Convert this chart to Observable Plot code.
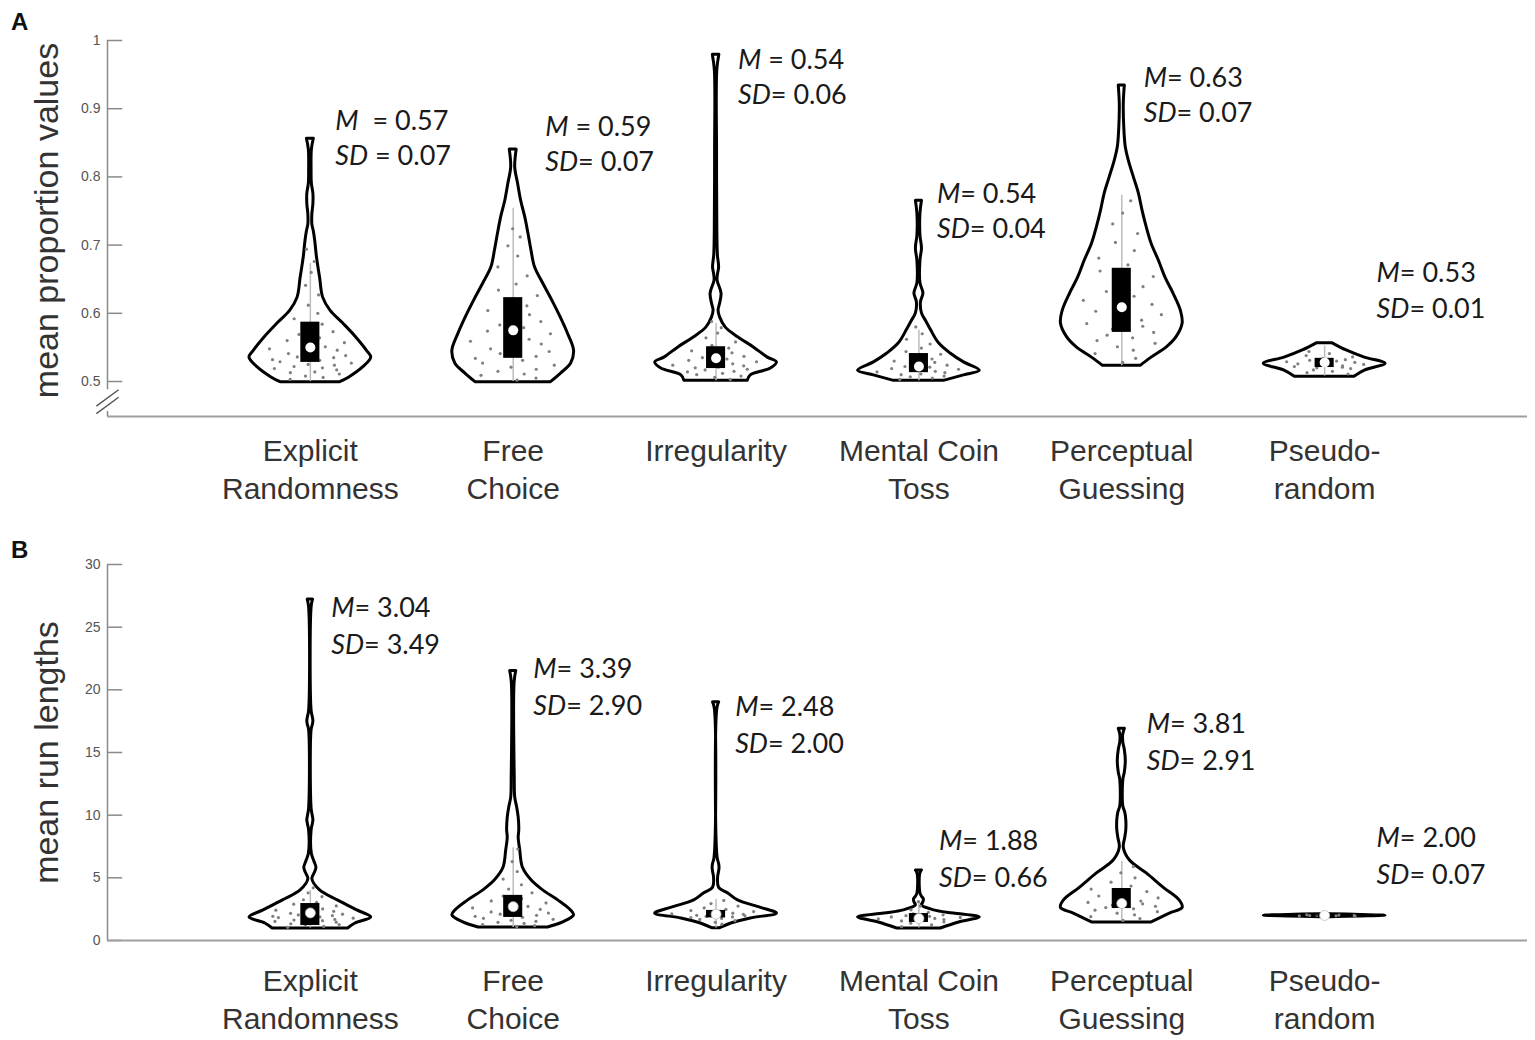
<!DOCTYPE html>
<html><head><meta charset="utf-8">
<script src="https://cdn.jsdelivr.net/npm/d3@7"></script>
<script src="https://cdn.jsdelivr.net/npm/@observablehq/plot@0.6"></script>
<style>
body{margin:0;background:#fff;}
#wrap{position:relative;width:1535px;height:1040px;overflow:hidden;}
.panel{position:absolute;left:0;}
.tag{position:absolute;left:11px;z-index:2;font:bold 24px "Liberation Sans",Arial,sans-serif;color:#111;}
</style></head><body>
<div id="wrap">
  <div id="pa" class="panel" style="top:0"></div>
  <div id="pb" class="panel" style="top:530px"></div>
  <div class="tag" style="top:8px">A</div>
  <div class="tag" style="top:536px">B</div>
</div>
<script>
// ---------- categories ----------
const categories = ["Explicit\nRandomness", "Free\nChoice", "Irregularity", "Mental Coin\nToss", "Perceptual\nGuessing", "Pseudo-\nrandom"];

// ---------- Panel A: mean proportion values ----------
const ticksA = [0.5, 0.6, 0.7, 0.8, 0.9, 1];
const meanA = [0.57, 0.59, 0.54, 0.54, 0.63, 0.53];
const sdA = [0.07, 0.07, 0.06, 0.04, 0.07, 0.01];
// violin outlines: [value, relative half-width]
const violinA_explicit = [[0.499,0.49],[0.506,0.64],[0.521,0.87],[0.535,1.0],[0.545,0.93],[0.565,0.75],[0.585,0.54],[0.604,0.33],[0.623,0.21],[0.652,0.16],[0.681,0.11],[0.706,0.08],[0.72,0.057],[0.73,0.033],[0.745,0.033],[0.76,0.05],[0.775,0.05],[0.79,0.025],[0.81,0.02],[0.84,0.025],[0.856,0.057]];
const violinA_free = [[0.499,0.62],[0.512,0.79],[0.526,0.95],[0.545,1.0],[0.57,0.9],[0.594,0.78],[0.619,0.64],[0.644,0.49],[0.667,0.36],[0.692,0.3],[0.717,0.25],[0.74,0.2],[0.765,0.13],[0.79,0.08],[0.814,0.033],[0.84,0.057]];
const violinA_irreg = [[0.501,0.52],[0.509,0.57],[0.519,0.9],[0.528,1.0],[0.535,0.85],[0.55,0.62],[0.565,0.36],[0.579,0.16],[0.594,0.066],[0.604,0.041],[0.614,0.066],[0.629,0.09],[0.648,0.025],[0.658,0.033],[0.667,0.05],[0.685,0.03],[0.721,0.021],[0.839,0.016],[0.956,0.02],[0.979,0.054]];
const violinA_coin = [[0.501,0.41],[0.509,0.74],[0.516,1.0],[0.528,0.74],[0.541,0.52],[0.556,0.33],[0.575,0.2],[0.589,0.115],[0.6,0.05],[0.616,0.033],[0.629,0.074],[0.644,0.025],[0.677,0.025],[0.695,0.05],[0.714,0.025],[0.746,0.025],[0.765,0.05]];
const violinA_percep = [[0.523,0.31],[0.535,0.49],[0.55,0.74],[0.565,0.9],[0.585,1.0],[0.604,0.97],[0.629,0.85],[0.652,0.72],[0.677,0.61],[0.702,0.49],[0.726,0.41],[0.751,0.34],[0.776,0.28],[0.799,0.2],[0.824,0.115],[0.843,0.066],[0.872,0.041],[0.908,0.033],[0.934,0.05]];
const violinA_pseudo = [[0.507,0.49],[0.516,0.66],[0.526,1.0],[0.535,0.66],[0.5455,0.36],[0.556,0.13]];
// individual participant values (estimated)
const pointsA_explicit = [0.503,0.506,0.508,0.511,0.513,0.514,0.517,0.519,0.52,0.522,0.524,0.525,0.527,0.529,0.531,0.532,0.535,0.536,0.538,0.541,0.543,0.546,0.548,0.551,0.554,0.557,0.56,0.564,0.569,0.573,0.578,0.584,0.592,0.6,0.612,0.627,0.641,0.66,0.676,0.694];
const pointsA_free = [0.502,0.505,0.509,0.511,0.515,0.518,0.521,0.524,0.527,0.531,0.534,0.537,0.541,0.544,0.548,0.551,0.555,0.559,0.562,0.566,0.57,0.574,0.579,0.583,0.588,0.593,0.598,0.604,0.611,0.617,0.626,0.634,0.643,0.655,0.668,0.684,0.699,0.712,0.724];
const pointsA_irreg = [0.503,0.506,0.508,0.51,0.512,0.514,0.515,0.517,0.518,0.52,0.521,0.523,0.524,0.526,0.527,0.529,0.531,0.533,0.535,0.537,0.539,0.542,0.545,0.549,0.553,0.558,0.564,0.571,0.579,0.588];
const pointsA_coin = [0.503,0.505,0.507,0.508,0.51,0.511,0.513,0.514,0.515,0.517,0.518,0.519,0.521,0.522,0.524,0.526,0.528,0.53,0.533,0.536,0.54,0.544,0.549,0.555,0.562,0.57,0.58];
const pointsA_percep = [0.528,0.534,0.541,0.546,0.551,0.556,0.56,0.564,0.568,0.572,0.577,0.581,0.585,0.59,0.594,0.598,0.603,0.608,0.613,0.619,0.625,0.632,0.639,0.646,0.654,0.662,0.671,0.681,0.692,0.704,0.717,0.731,0.747,0.765];
const pointsA_pseudo = [0.511,0.513,0.515,0.517,0.519,0.52,0.521,0.522,0.523,0.524,0.525,0.526,0.527,0.528,0.529,0.53,0.531,0.532,0.534,0.536,0.538,0.541,0.544];
const q1A = [0.528, 0.534, 0.519, 0.513, 0.572, 0.5205];
const medA = [0.550, 0.575, 0.534, 0.522, 0.609, 0.528];
const q3A = [0.587, 0.623, 0.551, 0.541, 0.666, 0.534];
const whiskLoA = [0.50, 0.50, 0.501, 0.501, 0.523, 0.508];
const whiskHiA = [0.673, 0.754, 0.585, 0.575, 0.773, 0.552];
const annoDxA = [0.123, 0.158, 0.108, 0.089, 0.108, 0.256];
const annoYA = [0.860, 0.851, 0.949, 0.753, 0.922, 0.636];
const mSepA = ["\u00a0\u00a0= ", " = ", " = ", "= ", "= ", "= "];
const sdSepA = [" = ", "= ", "= ", "= ", "= ", "= "];

// ---------- Panel B: mean run lengths ----------
const ticksB = [0, 5, 10, 15, 20, 25, 30];
const meanB = [3.04, 3.39, 2.48, 1.88, 3.81, 2.00];
const sdB = [3.49, 2.90, 2.00, 0.66, 2.91, 0.07];
const violinB_explicit = [[0.96,0.62],[1.36,0.74],[1.84,1.0],[2.4,0.77],[3.2,0.45],[4.0,0.16],[4.9,0.033],[5.4,0.074],[5.8,0.1],[6.3,0.066],[6.9,0.025],[8.8,0.021],[9.3,0.041],[9.6,0.05],[9.9,0.041],[10.5,0.021],[16.8,0.021],[17.2,0.041],[17.5,0.05],[17.8,0.041],[18.3,0.021],[26.6,0.021],[27.2,0.044]];
const violinB_free = [[1.04,0.57],[1.44,0.82],[2.0,1.0],[2.4,0.95],[3.2,0.74],[4.0,0.49],[4.8,0.3],[5.8,0.16],[7.2,0.115],[8.2,0.09],[8.8,0.1],[9.8,0.09],[10.6,0.066],[11.4,0.033],[13.0,0.025],[20.6,0.023],[21.5,0.05]];
const violinB_irreg = [[0.98,0.066],[1.36,0.25],[1.76,0.57],[2.15,1.0],[2.6,0.74],[3.2,0.36],[3.75,0.2],[4.2,0.05],[5.0,0.033],[5.5,0.05],[5.8,0.057],[6.1,0.05],[6.6,0.025],[18.5,0.021],[19.0,0.05]];
const violinB_coin = [[0.96,0.36],[1.44,0.66],[1.84,1.0],[2.15,0.57],[2.4,0.25],[2.8,0.05],[3.05,0.074],[3.27,0.082],[3.5,0.05],[3.75,0.025],[5.3,0.021],[5.59,0.05]];
const violinB_percep = [[1.44,0.49],[2.15,0.79],[2.6,1.0],[3.2,0.95],[4.2,0.69],[5.35,0.41],[6.4,0.13],[7.4,0.033],[8.2,0.057],[8.8,0.074],[9.6,0.074],[10.2,0.057],[10.7,0.025],[12.8,0.025],[13.4,0.05],[14.3,0.066],[15.2,0.05],[15.8,0.025],[16.4,0.023],[16.9,0.05]];
const violinB_pseudo = [[1.86,0.06],[1.92,0.6],[1.98,1.0],[2.04,0.6],[2.1,0.06]];
const pointsB_explicit = [1.05,1.12,1.2,1.27,1.33,1.4,1.46,1.52,1.58,1.63,1.68,1.73,1.78,1.83,1.88,1.93,1.98,2.04,2.1,2.17,2.25,2.33,2.42,2.52,2.63,2.76,2.9,3.05,3.25,3.5,3.8,4.2];
const pointsB_free = [1.1,1.18,1.27,1.36,1.45,1.53,1.61,1.69,1.77,1.85,1.93,2.01,2.1,2.19,2.28,2.38,2.49,2.6,2.72,2.86,3.0,3.16,3.34,3.55,3.8,4.1,4.45,4.9,5.5,6.3,7.3];
const pointsB_irreg = [1.3,1.45,1.58,1.68,1.76,1.83,1.88,1.93,1.97,2.01,2.05,2.09,2.13,2.18,2.24,2.31,2.39,2.48,2.6,2.75,2.95,3.2];
const pointsB_coin = [1.1,1.25,1.38,1.48,1.56,1.62,1.67,1.72,1.76,1.8,1.84,1.88,1.93,1.98,2.05,2.13,2.25,2.45,2.75,3.1];
const pointsB_percep = [1.6,1.75,1.9,2.05,2.18,2.3,2.42,2.53,2.63,2.73,2.83,2.93,3.04,3.15,3.27,3.4,3.55,3.72,3.9,4.1,4.35,4.65,5.0,5.4,5.9];
const pointsB_pseudo = [1.94,1.96,1.97,1.99,2.0,2.01,2.03,2.05];
const q1B = [1.2, 1.84, 1.8, 1.44, 2.55, 1.95];
const medB = [2.2, 2.7, 2.1, 1.76, 2.95, 2.0];
const q3B = [2.95, 3.6, 2.4, 2.15, 4.15, 2.05];
const whiskLoB = [1.0, 1.04, 1.0, 1.0, 1.5, 1.9];
const whiskHiB = [4.0, 7.4, 3.3, 3.2, 6.3, 2.1];
const annoDxB = [0.103, 0.099, 0.094, 0.099, 0.123, 0.256];
const annoYB = [25.3, 20.4, 17.36, 6.70, 16.0, 6.94];
const mSepB = ["= ", "= ", "= ", "= ", "= ", "= "];
const sdSepB = ["= ", "= ", "= ", "= ", "= ", "= "];

// ---------- layout constants ----------
const HALF = 0.30;       // violin max half-width (x units)
const BOX_HALF = 0.047;  // box half-width (x units)
const JITTER = [-0.72,0.41,-0.15,0.83,-0.55,0.12,0.67,-0.88,0.29,-0.38,0.55,-0.05,0.91,-0.66,0.2,-0.8,0.48,-0.27,0.74,-0.47,0.05,0.6,-0.93,0.35,-0.12,0.85,-0.6,0.25,-0.33,0.7,-0.2,0.44];
const SANS = "'Liberation Sans', Arial, sans-serif";

function widthAt(outline, v) {
  if (v <= outline[0][0]) return outline[0][1];
  for (let k = 1; k < outline.length; k++) {
    if (v <= outline[k][0]) {
      const [v0, d0] = outline[k - 1], [v1, d1] = outline[k];
      return d0 + (d1 - d0) * (v - v0) / (v1 - v0);
    }
  }
  return outline[outline.length - 1][1];
}

function panel(cfg) {
  const idx = d3.range(6);
  const violinRows = cfg.outlines.flatMap((o, i) => o.map(([v, d]) => ({c: i + 1, v, d})));
  const pointRows = cfg.points.flatMap((p, i) => p.map((v, k) => ({c: i + 1, v, j: JITTER[(k + i * 5) % JITTER.length] * widthAt(cfg.outlines[i], v)})));
  const texts = idx.map(i => `M${cfg.mSep[i]}${cfg.mean[i].toFixed(2)}\nSD${cfg.sdSep[i]}${cfg.sd[i].toFixed(2)}`);
  const marks = [
    Plot.areaX(violinRows, {y: "v", x1: d => d.c - d.d * HALF, x2: d => d.c + d.d * HALF, z: "c", curve: "catmull-rom", fill: "white", stroke: "black", strokeWidth: 3, strokeLinejoin: "round"}),
    Plot.ruleX(idx, {x: i => i + 1, y1: i => cfg.whiskLo[i], y2: i => cfg.whiskHi[i], stroke: "#bdbdbd", strokeWidth: 1.5}),
    Plot.dot(pointRows, {x: d => d.c + d.j * HALF * 0.8, y: "v", r: 1.6, fill: "#808080", stroke: null}),
    Plot.rect(idx, {x1: i => i + 1 - BOX_HALF, x2: i => i + 1 + BOX_HALF, y1: i => cfg.q1[i], y2: i => cfg.q3[i], fill: "black"}),
    Plot.dot(idx, {x: i => i + 1, y: i => cfg.med[i], r: 5, fill: "white", stroke: cfg.medStroke, strokeWidth: 0.8}),
    // axes
    Plot.ruleX([0], {y1: cfg.axisTopLo, y2: cfg.yDomain[1], stroke: "#8a8a8a", strokeWidth: 1.5}),
    Plot.ruleY(cfg.ticks, {x1: 0, x2: 0.075, stroke: "#8a8a8a", strokeWidth: 1.5}),
    Plot.axisY(cfg.ticks, {tickSize: 0, tickPadding: 7, fontSize: 14, color: "#555", label: null, tickFormat: d => String(d)}),
    Plot.ruleY([cfg.yDomain[0]], {stroke: "#a0a0a0", strokeWidth: 2}),
    Plot.axisX([1, 2, 3, 4, 5, 6], {tickSize: 0, tickPadding: cfg.labelPad, tickFormat: i => categories[i - 1], fontSize: 30, lineHeight: 1.25, color: "#333", label: null}),
    Plot.text([cfg.yLabel], {frameAnchor: "left", textAnchor: "middle", lineAnchor: "middle", rotate: -90, dx: -60, dy: cfg.yLabelDy, fontSize: 34, fill: "#333"}),
    Plot.text(idx, {x: i => i + 1 + cfg.annoDx[i], y: i => cfg.annoY[i], text: i => texts[i], textAnchor: "start", lineAnchor: "middle", lineHeight: cfg.annoLH, fontSize: 27, fontFamily: "Lato, 'Open Sans', sans-serif", fill: "#1a1a1a"})
  ];
  if (cfg.breaks) {
    marks.push(Plot.ruleX([0], {y1: cfg.yDomain[0], y2: cfg.axisBotHi, stroke: "#8a8a8a", strokeWidth: 1.5}));
    marks.push(Plot.link(cfg.breaks, {x1: -0.055, x2: 0.055, y1: v => v - 0.012, y2: v => v + 0.012, stroke: "#555", strokeWidth: 1.4}));
  }
  const svg = Plot.plot({
    width: 1535, height: cfg.height,
    marginLeft: 107, marginRight: 8, marginTop: cfg.marginTop, marginBottom: cfg.marginBottom,
    x: {domain: [0, 7]},
    y: {domain: cfg.yDomain},
    style: {fontFamily: SANS, background: "white", overflow: "visible"},
    marks
  });
  // italicise the statistic symbols (M, SD)
  d3.select(svg).selectAll("text, tspan").each(function () {
    if (this.querySelector && this.querySelector("tspan")) return; // only leaf nodes
    const s = this.textContent;
    const m = s.match(/^(M|SD)([\s\u00a0=][\s\S]*)$/);
    if (!m) return;
    this.textContent = "";
    const it = document.createElementNS("http://www.w3.org/2000/svg", "tspan");
    it.setAttribute("font-style", "italic");
    it.textContent = m[1];
    this.appendChild(it);
    this.appendChild(document.createTextNode(m[2]));
  });
  return svg;
}

document.getElementById("pa").appendChild(panel({
  outlines: [violinA_explicit, violinA_free, violinA_irreg, violinA_coin, violinA_percep, violinA_pseudo],
  points: [pointsA_explicit, pointsA_free, pointsA_irreg, pointsA_coin, pointsA_percep, pointsA_pseudo],
  q1: q1A, med: medA, q3: q3A, whiskLo: whiskLoA, whiskHi: whiskHiA,
  mean: meanA, sd: sdA, mSep: mSepA, sdSep: sdSepA, annoDx: annoDxA, annoY: annoYA, annoLH: 1.3,
  ticks: ticksA, yDomain: [0.4487, 1], axisTopLo: 0.488, axisBotHi: 0.456, breaks: [0.476, 0.465],
  height: 530, marginTop: 40, marginBottom: 114, labelPad: 18,
  yLabel: "mean proportion values", yLabelDy: -8, medStroke: null
}));

document.getElementById("pb").appendChild(panel({
  outlines: [violinB_explicit, violinB_free, violinB_irreg, violinB_coin, violinB_percep, violinB_pseudo],
  points: [pointsB_explicit, pointsB_free, pointsB_irreg, pointsB_coin, pointsB_percep, pointsB_pseudo],
  q1: q1B, med: medB, q3: q3B, whiskLo: whiskLoB, whiskHi: whiskHiB,
  mean: meanB, sd: sdB, mSep: mSepB, sdSep: sdSepB, annoDx: annoDxB, annoY: annoYB, annoLH: 1.37,
  ticks: ticksB, yDomain: [0, 30], axisTopLo: 0, axisBotHi: 0, breaks: null,
  height: 510, marginTop: 34, marginBottom: 100, labelPad: 24,
  yLabel: "mean run lengths", yLabelDy: 0, medStroke: "#bbb"
}));
</script>
</body></html>
